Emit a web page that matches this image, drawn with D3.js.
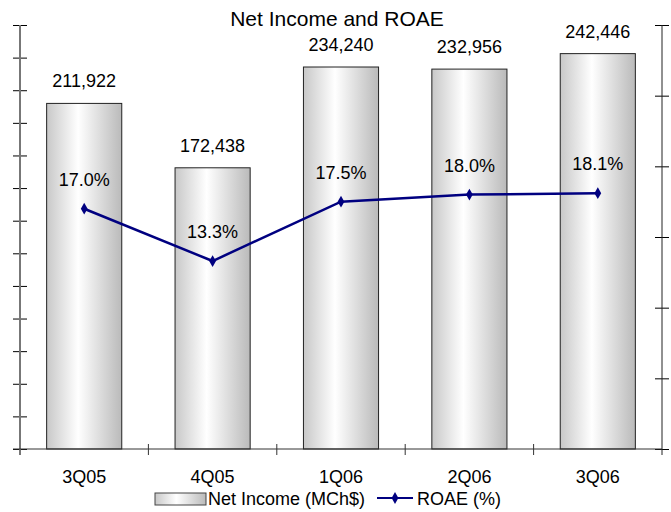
<!DOCTYPE html>
<html>
<head>
<meta charset="utf-8">
<script src="https://cdn.jsdelivr.net/npm/d3@7"></script>
<style>
  html, body { margin: 0; padding: 0; background: #fff; }
  svg text { font-family: "Liberation Sans", Arial, sans-serif; fill: #000; }
</style>
</head>
<body>
<svg id="chart" width="671" height="512"></svg>
<script>
const categories = ["3Q05", "4Q05", "1Q06", "2Q06", "3Q06"];
const netIncome = [211922, 172438, 234240, 232956, 242446];
const roae = [17.0, 13.3, 17.5, 18.0, 18.1];
const leftTicks = [0, 20000, 40000, 60000, 80000, 100000, 120000, 140000, 160000, 180000, 200000, 220000, 240000, 260000];
const rightTicks = [0, 5, 10, 15, 20, 25, 30];
const title = "Net Income and ROAE";
const legendLabels = ["Net Income (MCh$)", "ROAE (%)"];

const svg = d3.select("#chart");
const plot = { left: 20, right: 662, top: 25, bottom: 449 };

const x = d3.scaleBand().domain(categories).range([plot.left, plot.right])
  .paddingInner(0.415).paddingOuter(0.2075);
const yL = d3.scaleLinear().domain([0, 260000]).range([plot.bottom, plot.top]);
const yR = d3.scaleLinear().domain([0, 30]).range([plot.bottom, plot.top]);

const defs = svg.append("defs");
const grad = defs.append("linearGradient").attr("id", "barGrad")
  .attr("x1", "0%").attr("x2", "100%").attr("y1", "0%").attr("y2", "0%");
grad.append("stop").attr("offset", "0%").attr("stop-color", "#c8c8c8");
grad.append("stop").attr("offset", "42%").attr("stop-color", "#ffffff");
grad.append("stop").attr("offset", "100%").attr("stop-color", "#bababa");

// Title
svg.append("text").attr("x", 337).attr("y", 26).attr("text-anchor", "middle")
  .style("font-size", "21px").text(title);

// Bars
svg.append("g").selectAll("rect").data(netIncome).join("rect")
  .attr("x", (d, i) => x(categories[i]))
  .attr("y", d => yL(d))
  .attr("width", x.bandwidth())
  .attr("height", d => yL(0) - yL(d))
  .attr("fill", "url(#barGrad)")
  .attr("stroke", "#222").attr("stroke-width", 1);

// Bar labels
const fmt = d3.format(",");
svg.append("g").selectAll("text").data(netIncome).join("text")
  .attr("x", (d, i) => x(categories[i]) + x.bandwidth() / 2)
  .attr("y", d => yL(d) - 16)
  .attr("text-anchor", "middle").style("font-size", "18px")
  .text(d => fmt(d));

// Left axis
const gL = svg.append("g").attr("transform", `translate(${plot.left},0)`)
  .call(d3.axisLeft(yL).tickValues(leftTicks).tickSize(7).tickFormat(""));
gL.select(".domain").remove();
gL.selectAll(".tick line").attr("x1", 7).attr("x2", -7).attr("stroke", "#000");
gL.append("line").attr("x1", 0).attr("x2", 0).attr("y1", plot.top).attr("y2", plot.bottom + 6)
  .attr("stroke", "#777").attr("stroke-width", 2);

// Right axis
const gR = svg.append("g").attr("transform", `translate(${plot.right},0)`)
  .call(d3.axisRight(yR).tickValues(rightTicks).tickSize(7).tickFormat(""));
gR.select(".domain").remove();
gR.selectAll(".tick line").attr("x1", -7).attr("x2", 7).attr("stroke", "#000");
gR.append("line").attr("x1", 0).attr("x2", 0).attr("y1", plot.top).attr("y2", plot.bottom + 6)
  .attr("stroke", "#222").attr("stroke-width", 1);

// X axis
const gX = svg.append("g").attr("transform", `translate(0,${plot.bottom})`)
  .call(d3.axisBottom(x).tickSize(0));
gX.select(".domain").remove();
gX.selectAll(".tick text").style("font-size", "18px").attr("y", 34).attr("dy", 0)
  .style("font-family", '"Liberation Sans", Arial, sans-serif');
gX.append("line").attr("x1", plot.left - 7).attr("x2", plot.right).attr("y1", 0).attr("y2", 0)
  .attr("stroke", "#333").attr("stroke-width", 1);
const step = x.step();
svg.append("g").selectAll("line").data(categories.slice(1)).join("line")
  .attr("x1", d => x(d) - step * x.paddingInner() / 2)
  .attr("x2", d => x(d) - step * x.paddingInner() / 2)
  .attr("y1", plot.bottom - 5).attr("y2", plot.bottom + 6)
  .attr("stroke", "#333");

// ROAE line
const line = d3.line().x((d, i) => x(categories[i]) + x.bandwidth() / 2).y(d => yR(d));
svg.append("path").datum(roae).attr("d", line)
  .attr("fill", "none").attr("stroke", "#000080").attr("stroke-width", 2.5);
const diamond = d3.symbol().type(d3.symbolDiamond).size(40);
svg.append("g").selectAll("path").data(roae).join("path")
  .attr("d", diamond)
  .attr("transform", (d, i) => `translate(${x(categories[i]) + x.bandwidth() / 2},${yR(d)})`)
  .attr("fill", "#000080");
svg.append("g").selectAll("text").data(roae).join("text")
  .attr("x", (d, i) => x(categories[i]) + x.bandwidth() / 2)
  .attr("y", d => yR(d) - 23)
  .attr("text-anchor", "middle").style("font-size", "18px")
  .text(d => d3.format(".1f")(d) + "%");

// Legend
const lg = svg.append("g");
lg.append("rect").attr("x", 155).attr("y", 493).attr("width", 51).attr("height", 12)
  .attr("fill", "url(#barGrad)").attr("stroke", "#444");
lg.append("text").attr("x", 208).attr("y", 505).style("font-size", "18px").text(legendLabels[0]);
lg.append("line").attr("x1", 377).attr("x2", 413).attr("y1", 498).attr("y2", 498)
  .attr("stroke", "#000080").attr("stroke-width", 2);
lg.append("path").attr("d", diamond).attr("transform", "translate(395,498)").attr("fill", "#000080");
lg.append("text").attr("x", 417).attr("y", 505).style("font-size", "18px").text(legendLabels[1]);
</script>
</body>
</html>
